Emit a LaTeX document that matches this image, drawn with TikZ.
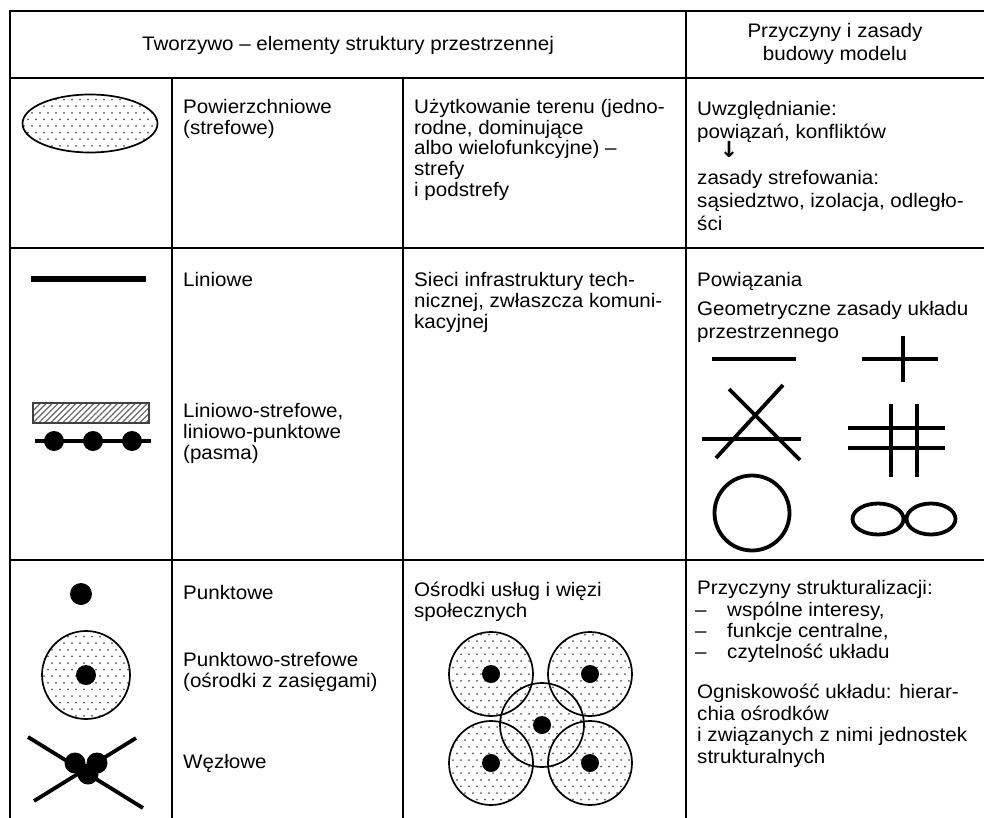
\documentclass[tikz,border=0pt]{standalone}
\usepackage{fontspec}
\setmainfont{Liberation Sans}[FakeStretch=1.05]
\newfontfamily\symfont{DejaVu Sans}
\usetikzlibrary{patterns.meta}

% stippled fill: dots on a staggered grid, to be used inside a clip
\newcommand\stipple[4]{%
  \foreach \k in {0,...,#4}{%
    \foreach \m in {0,...,#3}{%
      \fill[stipdot] ({#1+8*\m+4*mod(\k,2)},{#2+6.6*\k}) circle (1.0);
    }%
  }%
}
\newcommand\tabfont{\fontsize{19.6}{21}\selectfont}

\begin{document}
\begin{tikzpicture}[x=1pt,y=-1pt,
  rule/.style={line width=2.7pt},
  txt/.style={anchor=base west,inner sep=0pt,font=\tabfont},
  ctxt/.style={anchor=base,inner sep=0pt,font=\tabfont},
  stipdot/.style={fill=black!65},
  thinrim/.style={line width=1.7pt},
  figline/.style={line width=3.8pt},
  blob/.style={fill=black}]
\useasboundingbox (0,0) rectangle (984,818);

% ---- table rules ----
\draw[rule] (10,11) -- (984,11);
\draw[rule] (10,78) -- (984,78);
\draw[rule] (10,248) -- (984,248);
\draw[rule] (10,560) -- (984,560);
\draw[rule] (10,9.65) -- (10,818);
\draw[rule] (686,11) -- (686,818);
\draw[rule] (172,78) -- (172,818);
\draw[rule] (403,78) -- (403,818);

% ---- header ----
\node[ctxt] (hdA) at (348,51) {Tworzywo – elementy struktury przestrzennej};
\node[ctxt] (hdB1) at (835,38) {Przyczyny i zasady};
\node[ctxt] (hdB2) at (835,61) {budowy modelu};

% ---- row 1: areal elements ----
\begin{scope}
  \clip (90,123.5) ellipse (67.5 and 29);
  \fill[white] (90,123.5) ellipse (67.5 and 29);
  \stipple{20}{93}{18}{10}
\end{scope}
\draw[thinrim] (90,123.5) ellipse (67.5 and 29);

\node[txt] (a1) at (183,113.5) {Powierzchniowe};
\node[txt] (a2) at (183,134.2) {(strefowe)};

\node[txt] (b1) at (414,113.5) {Użytkowanie terenu (jedno-};
\node[txt] (b2) at (414,134.2) {rodne, dominujące};
\node[txt] (b3) at (414,154.9) {albo wielofunkcyjne) –};
\node[txt] (b4) at (414,175.6) {strefy};
\node[txt] (b5) at (414,196.3) {i podstrefy};

\node[txt] (c1) at (697,116) {Uwzględnianie:};
\node[txt] (c2) at (697,139) {powiązań, konfliktów};
\node[inner sep=0pt,font=\symfont\bfseries\fontsize{22}{22}\selectfont] (c3) at (729,150) {↓};
\node[txt] (c4) at (697,185) {zasady strefowania:};
\node[txt] (c5) at (697,208) {sąsiedztwo, izolacja, odległo-};
\node[txt] (c6) at (697,231) {ści};

% ---- row 2: linear elements ----
\draw[line width=5.5pt] (31,279) -- (146,279);
\fill[white] (33,403) rectangle (149,423);
\fill[pattern={Lines[angle=45,distance=4.2pt,line width=1.2pt]},pattern color=black!60]
  (33,403) rectangle (149,423);
\draw[line width=1.4pt,black!75] (33,403) rectangle (149,423);
\draw[line width=4pt] (35,441) -- (151,441);
\fill[blob] (54,441) circle (10);
\fill[blob] (93,441) circle (10);
\fill[blob] (132,441) circle (10);

\node[txt] (d1) at (183,286) {Liniowe};
\node[txt] (d2) at (183,417) {Liniowo-strefowe,};
\node[txt] (d3) at (183,438) {liniowo-punktowe};
\node[txt] (d4) at (183,459) {(pasma)};

\node[txt] (e1) at (414,286) {Sieci infrastruktury tech-};
\node[txt] (e2) at (414,307) {nicznej, zwłaszcza komuni-};
\node[txt] (e3) at (414,328) {kacyjnej};

\node[txt] (f1) at (697,286) {Powiązania};
\node[txt] (f2) at (697,315) {Geometryczne zasady układu};
\node[txt] (f3) at (697,338) {przestrzennego};

% geometric layouts
\draw[figline] (712,359) -- (796,359);
\draw[figline] (862,359) -- (938,359);
\draw[figline] (903,336) -- (903,382);
\draw[figline] (702,439) -- (801,439);
\draw[figline] (729,389) -- (800,460);
\draw[figline] (783,385) -- (716,458);
\draw[figline] (848,428) -- (945,428);
\draw[figline] (848,448) -- (945,448);
\draw[figline] (891,404) -- (891,477);
\draw[figline] (917,404) -- (917,477);
\draw[figline] (752,513) circle (37.5);
\draw[figline] (878,519) ellipse (25.5 and 15.5);
\draw[figline] (931,519) ellipse (24.5 and 15.5);

% ---- row 3: point elements ----
\fill[blob] (81,594) circle (11);
\begin{scope}
  \clip (86,675) circle (44);
  \fill[white] (86,675) circle (44);
  \stipple{40}{630}{12}{14}
\end{scope}
\draw[thinrim] (86,675) circle (44);
\fill[blob] (86,675) circle (10);

\draw[figline] (28,737) -- (143,808);
\draw[figline] (34,801) -- (136,738);
\fill[blob] (75,763) circle (10.5);
\fill[blob] (97,763) circle (10.5);
\fill[blob] (88,774) circle (10.5);

\node[txt] (g1) at (183,599) {Punktowe};
\node[txt] (g2) at (183,666) {Punktowo-strefowe};
\node[txt] (g3) at (183,687) {(ośrodki z zasięgami)};
\node[txt] (g4) at (183,768) {Węzłowe};

\node[txt] (h1) at (414,596) {Ośrodki usług i więzi};
\node[txt] (h2) at (414,617) {społecznych};

% service centres with their catchment areas
\begin{scope}
  \clip (491,674) circle (42) (590,674) circle (42) (542,725) circle (42)
        (491,763) circle (42) (590,763) circle (42);
  \fill[white] (440,620) rectangle (640,815);
  \stipple{445}{628}{25}{28}
\end{scope}
\foreach \cx/\cy in {491/674,590/674,542/725,491/763,590/763}{
  \draw[thinrim] (\cx,\cy) circle (42);
  \fill[blob] (\cx,\cy) circle (9);
}

\node[txt] (i1) at (697,594) {Przyczyny strukturalizacji:};
\node[txt] (i2d) at (695,616) {–};
\node[txt] (i2) at (727,616) {wspólne interesy,};
\node[txt] (i3d) at (695,637) {–};
\node[txt] (i3) at (727,637) {funkcje centralne,};
\node[txt] (i4d) at (695,658) {–};
\node[txt] (i4) at (727,658) {czytelność układu};
\node[txt] (j1) at (697,698) {Ogniskowość układu: hierar-};
\node[txt] (j2) at (697,720) {chia ośrodków};
\node[txt] (j3) at (697,741) {i związanych z nimi jednostek};
\node[txt] (j4) at (697,763) {strukturalnych};
\end{tikzpicture}
\end{document}
